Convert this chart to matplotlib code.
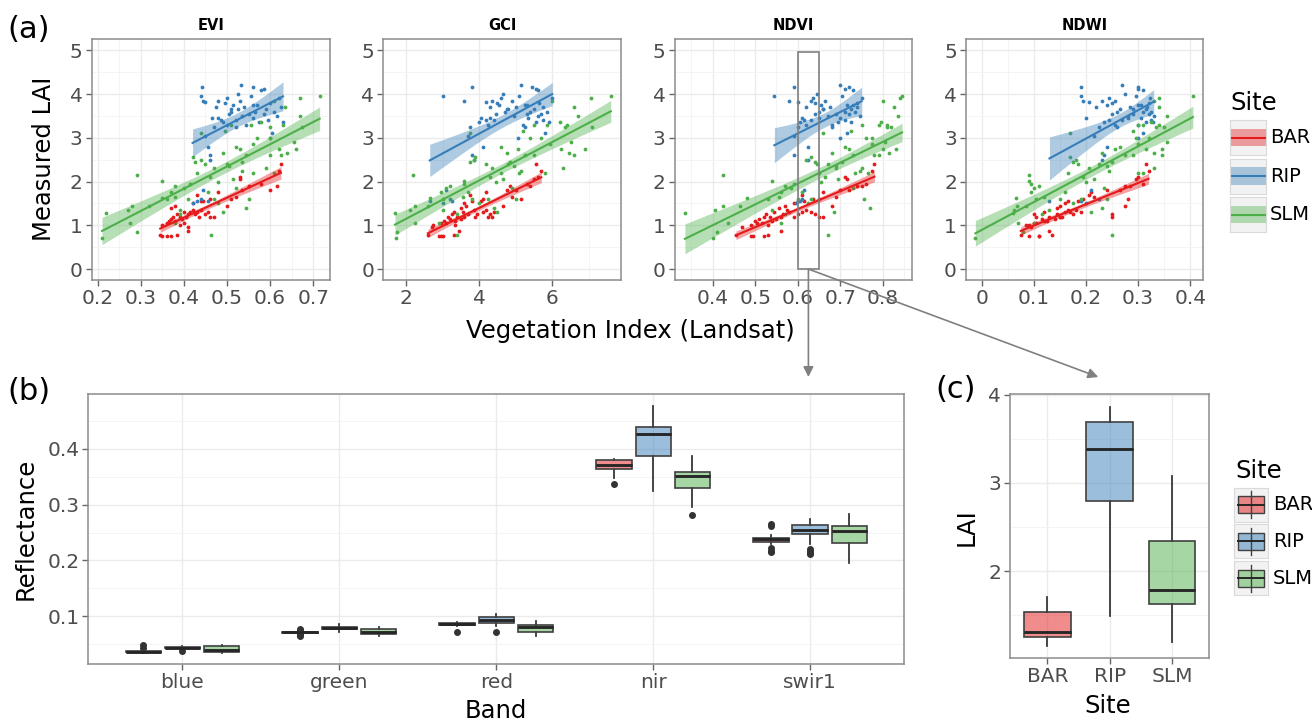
import numpy as np
import matplotlib.pyplot as plt
from matplotlib.patches import Rectangle, ConnectionPatch
from matplotlib.ticker import MultipleLocator, FuncFormatter

W, H = 1312, 724

SITES = ["BAR", "RIP", "SLM"]
COLORS = {"BAR": "#E41A1C", "RIP": "#377EB8", "SLM": "#4DAF4A"}
INDICES = ["EVI", "GCI", "NDVI", "NDWI"]

# ---- (a) field plots: measured LAI and Landsat index values per site ----
bar_lai = [0.78, 0.75, 0.76, 0.75, 0.78, 0.88, 0.95, 1.00, 1.05, 1.10,
           1.15, 1.20, 1.10, 1.25, 1.20, 1.15, 1.30, 1.20, 1.25, 1.30,
           1.35, 1.50, 1.25, 1.30, 1.20, 1.35, 1.55, 1.55, 1.25, 1.30,
           1.20, 1.60, 1.20, 1.70, 1.75, 1.45, 1.60, 1.65, 2.10, 2.05,
           1.80, 1.90, 1.95, 1.80, 2.25, 2.40, 1.90, 1.40, 1.45, 1.00, 1.05]
bar_evi = [0.345, 0.350, 0.360, 0.370, 0.385, 0.410, 0.410, 0.350, 0.360, 0.365,
           0.370, 0.375, 0.380, 0.385, 0.390, 0.395, 0.400, 0.405, 0.410, 0.415,
           0.420, 0.420, 0.425, 0.430, 0.435, 0.440, 0.440, 0.445, 0.450, 0.455,
           0.460, 0.460, 0.470, 0.430, 0.480, 0.500, 0.510, 0.520, 0.530, 0.530,
           0.535, 0.550, 0.580, 0.600, 0.620, 0.625, 0.615, 0.370, 0.380, 0.390, 0.400]
bar_gci = [2.60, 2.90, 2.95, 3.00, 3.30, 3.45, 2.70, 2.75, 3.10, 3.05,
           3.20, 3.15, 3.35, 3.25, 3.40, 3.50, 3.30, 3.60, 3.70, 3.55,
           3.85, 3.60, 3.95, 4.10, 3.90, 4.20, 4.05, 3.80, 4.30, 4.40,
           4.25, 4.10, 4.35, 3.75, 4.20, 4.65, 5.15, 4.90, 5.60, 5.50,
           4.75, 4.85, 5.30, 5.00, 5.70, 5.55, 5.40, 3.50, 3.65, 3.35, 2.95]
bar_ndvi = [0.455, 0.490, 0.495, 0.520, 0.530, 0.560, 0.470, 0.490, 0.505, 0.500,
            0.510, 0.520, 0.540, 0.525, 0.535, 0.550, 0.545, 0.560, 0.565, 0.580,
            0.575, 0.590, 0.600, 0.610, 0.590, 0.620, 0.600, 0.615, 0.640, 0.630,
            0.660, 0.635, 0.650, 0.610, 0.660, 0.680, 0.650, 0.690, 0.710, 0.715,
            0.700, 0.740, 0.760, 0.720, 0.775, 0.780, 0.750, 0.555, 0.570, 0.530, 0.515]
bar_ndwi = [0.075, 0.090, 0.110, 0.110, 0.135, 0.130, 0.095, 0.085, 0.100, 0.120,
            0.115, 0.105, 0.125, 0.100, 0.130, 0.140, 0.120, 0.150, 0.145, 0.160,
            0.165, 0.160, 0.175, 0.170, 0.155, 0.180, 0.165, 0.185, 0.250, 0.190,
            0.250, 0.195, 0.150, 0.205, 0.210, 0.275, 0.280, 0.215, 0.300, 0.295,
            0.240, 0.275, 0.310, 0.265, 0.320, 0.315, 0.285, 0.145, 0.150, 0.090, 0.105]

rip_lai = [4.15, 3.95, 3.85, 3.82, 1.50, 1.55, 1.60, 1.80, 1.55, 2.50,
           2.60, 2.78, 3.05, 3.25, 3.45, 3.70, 3.85, 3.40, 3.35, 3.80,
           3.90, 3.30, 3.55, 3.60, 3.75, 3.40, 3.65, 4.00, 3.85, 3.50,
           4.20, 3.70, 3.30, 3.55, 3.95, 4.15, 3.45, 3.60, 3.75, 3.35,
           4.10, 3.55, 3.65, 3.40, 3.80, 3.00, 3.10, 3.60, 3.50, 3.90,
           3.70, 3.35, 3.45, 3.65, 3.25, 4.12, 3.75]
rip_evi = [0.442, 0.440, 0.445, 0.450, 0.420, 0.430, 0.440, 0.445, 0.455, 0.460,
           0.460, 0.455, 0.450, 0.470, 0.465, 0.475, 0.480, 0.485, 0.490, 0.495,
           0.500, 0.500, 0.505, 0.510, 0.515, 0.520, 0.525, 0.525, 0.530, 0.535,
           0.532, 0.540, 0.545, 0.550, 0.555, 0.560, 0.560, 0.565, 0.570, 0.575,
           0.580, 0.585, 0.590, 0.595, 0.600, 0.600, 0.605, 0.610, 0.615, 0.620,
           0.625, 0.630, 0.480, 0.510, 0.520, 0.585, 0.560]
rip_gci = [3.80, 3.00, 3.60, 4.20, 3.00, 2.65, 3.20, 3.10, 3.25, 3.85,
           3.80, 4.10, 3.70, 3.75, 4.05, 4.30, 4.35, 4.20, 4.00, 4.50,
           4.60, 4.25, 4.45, 4.70, 4.55, 4.40, 4.80, 4.65, 4.90, 4.95,
           5.15, 5.00, 5.20, 5.30, 5.10, 5.45, 5.35, 5.40, 5.25, 5.55,
           5.60, 5.70, 5.50, 5.75, 5.65, 5.05, 5.80, 5.85, 5.60, 6.00,
           5.75, 5.90, 4.30, 4.75, 5.25, 5.55, 5.30]
rip_ndvi = [0.590, 0.545, 0.580, 0.600, 0.595, 0.600, 0.610, 0.615, 0.605, 0.625,
            0.590, 0.625, 0.590, 0.600, 0.610, 0.620, 0.630, 0.615, 0.605, 0.640,
            0.635, 0.620, 0.640, 0.650, 0.655, 0.630, 0.660, 0.645, 0.665, 0.670,
            0.700, 0.675, 0.680, 0.690, 0.705, 0.720, 0.700, 0.710, 0.715, 0.695,
            0.730, 0.720, 0.725, 0.710, 0.740, 0.700, 0.715, 0.735, 0.745, 0.750,
            0.740, 0.725, 0.650, 0.660, 0.680, 0.710, 0.730]
rip_ndwi = [0.190, 0.190, 0.195, 0.205, 0.200, 0.130, 0.225, 0.210, 0.190, 0.230,
            0.235, 0.240, 0.215, 0.225, 0.200, 0.220, 0.230, 0.245, 0.235, 0.250,
            0.245, 0.255, 0.250, 0.260, 0.240, 0.270, 0.265, 0.275, 0.255, 0.280,
            0.270, 0.285, 0.300, 0.290, 0.295, 0.300, 0.305, 0.310, 0.300, 0.315,
            0.310, 0.320, 0.315, 0.325, 0.320, 0.300, 0.310, 0.325, 0.330, 0.322,
            0.318, 0.328, 0.280, 0.290, 0.260, 0.300, 0.305]

slm_lai = [0.70, 1.27, 1.35, 1.45, 1.05, 0.85, 2.15, 1.45, 2.02, 1.62,
           1.60, 1.75, 1.90, 1.65, 1.25, 1.85, 1.60, 1.95, 2.55, 2.45,
           2.20, 2.50, 3.10, 2.40, 1.75, 2.10, 0.77, 1.60, 2.00, 1.50,
           1.30, 2.65, 3.15, 2.40, 2.35, 3.30, 2.05, 2.80, 2.75, 2.45,
           1.40, 2.60, 1.60, 3.30, 2.20, 3.00, 3.35, 2.30, 2.60, 2.20,
           2.75, 2.60, 3.30, 3.70, 2.65, 2.90, 2.75, 3.50, 3.90, 3.25,
           3.95, 3.85, 3.00, 1.35, 1.05, 2.30, 2.85, 1.85, 2.25, 3.25]
slm_evi = [0.210, 0.220, 0.270, 0.280, 0.275, 0.290, 0.290, 0.320, 0.350, 0.350,
           0.360, 0.370, 0.380, 0.380, 0.390, 0.400, 0.410, 0.415, 0.420, 0.425,
           0.430, 0.440, 0.440, 0.450, 0.455, 0.460, 0.462, 0.470, 0.480, 0.480,
           0.490, 0.490, 0.495, 0.500, 0.505, 0.510, 0.515, 0.520, 0.530, 0.535,
           0.545, 0.545, 0.550, 0.555, 0.560, 0.570, 0.580, 0.590, 0.600, 0.610,
           0.620, 0.625, 0.630, 0.635, 0.640, 0.655, 0.660, 0.670, 0.670, 0.675,
           0.715, 0.610, 0.600, 0.390, 0.380, 0.470, 0.560, 0.520, 0.535, 0.600]
slm_gci = [1.72, 1.70, 2.10, 2.25, 2.25, 1.75, 2.20, 2.60, 3.60, 2.65,
           3.00, 2.95, 3.20, 3.55, 3.40, 3.10, 3.80, 3.60, 3.90, 3.75,
           4.60, 3.85, 3.75, 4.20, 3.70, 4.30, 3.40, 4.25, 4.45, 4.00,
           4.50, 4.75, 5.20, 4.80, 4.95, 5.50, 4.65, 4.60, 5.05, 4.85,
           4.40, 5.25, 5.00, 5.85, 5.10, 5.70, 6.20, 6.30, 5.50, 5.80,
           6.25, 6.60, 6.40, 6.60, 6.45, 6.50, 6.90, 6.70, 7.05, 7.10,
           7.60, 6.00, 5.40, 3.00, 2.90, 4.35, 5.95, 4.90, 5.15, 6.35]
slm_ndvi = [0.400, 0.335, 0.405, 0.425, 0.435, 0.410, 0.425, 0.465, 0.540, 0.480,
            0.530, 0.560, 0.570, 0.555, 0.570, 0.585, 0.600, 0.590, 0.630, 0.640,
            0.650, 0.620, 0.660, 0.645, 0.610, 0.665, 0.670, 0.630, 0.655, 0.625,
            0.685, 0.680, 0.725, 0.670, 0.690, 0.750, 0.695, 0.710, 0.720, 0.705,
            0.770, 0.730, 0.755, 0.790, 0.735, 0.775, 0.795, 0.750, 0.780, 0.765,
            0.800, 0.790, 0.810, 0.825, 0.815, 0.805, 0.830, 0.835, 0.840, 0.820,
            0.845, 0.800, 0.760, 0.540, 0.560, 0.690, 0.775, 0.730, 0.745, 0.810]
slm_ndwi = [-0.012, 0.060, 0.062, 0.068, 0.070, 0.080, 0.090, 0.085, 0.090, 0.065,
            0.105, 0.095, 0.110, 0.120, 0.115, 0.100, 0.150, 0.095, 0.170, 0.175,
            0.165, 0.180, 0.170, 0.185, 0.160, 0.195, 0.250, 0.190, 0.200, 0.175,
            0.210, 0.230, 0.290, 0.225, 0.240, 0.300, 0.215, 0.265, 0.255, 0.250,
            0.230, 0.275, 0.240, 0.310, 0.300, 0.295, 0.325, 0.330, 0.290, 0.310,
            0.315, 0.345, 0.340, 0.340, 0.330, 0.355, 0.345, 0.355, 0.340, 0.350,
            0.405, 0.330, 0.320, 0.130, 0.100, 0.205, 0.300, 0.235, 0.245, 0.335]

# ---- (b) reflectance box statistics per band ----
BANDS = ["blue", "green", "red", "nir", "swir1"]
# order: blue, green, red, nir, swir1
bar_q1 = [0.0355, 0.0700, 0.0842, 0.3633, 0.2338]
bar_med = [0.0365, 0.0712, 0.0860, 0.3716, 0.2375]
bar_q3 = [0.0375, 0.0722, 0.0880, 0.3795, 0.2410]
bar_lo = [0.0345, 0.0690, 0.0830, 0.3470, 0.2290]
bar_hi = [0.0385, 0.0735, 0.0895, 0.3820, 0.2450]
bar_out = [[0.0430, 0.0486], [0.0655, 0.0665, 0.0675, 0.0760, 0.0780], [0.0725],
           [0.3360], [0.2146, 0.2175, 0.2223, 0.2610, 0.2660]]

rip_q1 = [0.0430, 0.0765, 0.0885, 0.3878, 0.2470]
rip_med = [0.0440, 0.0790, 0.0940, 0.4256, 0.2547]
rip_q3 = [0.0450, 0.0815, 0.0980, 0.4389, 0.2637]
rip_lo = [0.0420, 0.0725, 0.0830, 0.3248, 0.2300]
rip_hi = [0.0460, 0.0870, 0.1035, 0.4760, 0.2750]
rip_out = [[0.0380], [], [0.0725], [], [0.2110, 0.2140, 0.2170, 0.2200]]

slm_q1 = [0.0355, 0.0683, 0.0720, 0.3297, 0.2313]
slm_med = [0.0405, 0.0720, 0.0800, 0.3518, 0.2518]
slm_q3 = [0.0468, 0.0766, 0.0838, 0.3590, 0.2608]
slm_lo = [0.0340, 0.0640, 0.0650, 0.2960, 0.1948]
slm_hi = [0.0480, 0.0815, 0.0910, 0.3870, 0.2830]
slm_out = [[], [], [], [0.2806], []]

# ---- (c) LAI inside the NDVI 0.60-0.65 window ----
lai_q1 = [1.25, 2.79, 1.63]
lai_med = [1.31, 3.39, 1.78]
lai_q3 = [1.53, 3.69, 2.34]
lai_lo = [1.15, 1.49, 1.20]
lai_hi = [1.71, 3.86, 3.08]

LAI = {"BAR": bar_lai, "RIP": rip_lai, "SLM": slm_lai}
VI = {
    "EVI": {"BAR": bar_evi, "RIP": rip_evi, "SLM": slm_evi},
    "GCI": {"BAR": bar_gci, "RIP": rip_gci, "SLM": slm_gci},
    "NDVI": {"BAR": bar_ndvi, "RIP": rip_ndvi, "SLM": slm_ndvi},
    "NDWI": {"BAR": bar_ndwi, "RIP": rip_ndwi, "SLM": slm_ndwi},
}
REFL = {
    "BAR": (bar_q1, bar_med, bar_q3, bar_lo, bar_hi, bar_out),
    "RIP": (rip_q1, rip_med, rip_q3, rip_lo, rip_hi, rip_out),
    "SLM": (slm_q1, slm_med, slm_q3, slm_lo, slm_hi, slm_out),
}

TICK_COL = "#4D4D4D"
BOX_EDGE = "#404040"
TICK_SIZE = 14.5

fig = plt.figure(figsize=(W / 100, H / 100), dpi=100)


def px_axes(x0, y0, x1, y1):
    return fig.add_axes([x0 / W, 1 - y1 / H, (x1 - x0) / W, (y1 - y0) / H])


def ftext(x, y, s, **kw):
    kw.setdefault("ha", "center")
    kw.setdefault("va", "center")
    fig.text(x / W, 1 - y / H, s, **kw)


def style(ax):
    for sp in ax.spines.values():
        sp.set_color("#8C8C8C")
        sp.set_linewidth(1.1)
    ax.set_axisbelow(True)
    ax.grid(which="major", color="#EBEBEB", lw=1.0)
    ax.grid(which="minor", color="#F3F3F3", lw=0.6)
    ax.tick_params(which="major", length=4, width=1, color="#666666",
                   labelsize=TICK_SIZE, labelcolor=TICK_COL, pad=2.5)
    ax.tick_params(which="minor", length=0)


def lm_band(x, y):
    x = np.asarray(x, float)
    y = np.asarray(y, float)
    slope, icpt = np.polyfit(x, y, 1)
    xs = np.linspace(x.min(), x.max(), 80)
    fit = icpt + slope * xs
    resid = y - (icpt + slope * x)
    n = len(x)
    s = np.sqrt(np.sum(resid ** 2) / (n - 2))
    se = s * np.sqrt(1 / n + (xs - x.mean()) ** 2 / np.sum((x - x.mean()) ** 2))
    return xs, fit, 2.0 * se


fmt = FuncFormatter(lambda v, p: f"{v:g}")

# ---------------- (a) ----------------
panel_x = [(91.7, 330), (383.3, 621), (674.7, 912.3), (966, 1203.3)]
xlims = [(0.186, 0.739), (1.38, 7.88), (0.311, 0.869), (-0.030, 0.425)]
xsteps = [(0.1, 0.05), (2, 1), (0.1, 0.05), (0.1, 0.05)]

axes_a = []
for name, (x0, x1), xl, (maj, mnr) in zip(INDICES, panel_x, xlims, xsteps):
    ax = px_axes(x0, 39.3, x1, 280)
    style(ax)
    for site in SITES:
        ax.scatter(VI[name][site], LAI[site], s=7.5, color=COLORS[site],
                   linewidths=0, zorder=2)
    for site in SITES:
        xs, fit, ci = lm_band(VI[name][site], LAI[site])
        ax.fill_between(xs, fit - ci, fit + ci, color=COLORS[site],
                        alpha=0.4, lw=0, zorder=3)
        ax.plot(xs, fit, color=COLORS[site], lw=1.5, zorder=4)
    ax.set_xlim(*xl)
    ax.set_ylim(-0.25, 5.25)
    ax.xaxis.set_major_locator(MultipleLocator(maj))
    ax.xaxis.set_minor_locator(MultipleLocator(mnr))
    ax.yaxis.set_major_locator(MultipleLocator(1))
    ax.yaxis.set_minor_locator(MultipleLocator(0.5))
    ax.xaxis.set_major_formatter(fmt)
    ax.yaxis.set_major_formatter(fmt)
    ftext((x0 + x1) / 2, 26, name, fontsize=10.5, fontweight="bold")
    axes_a.append(ax)

ax_ndvi = axes_a[2]
ax_ndvi.add_patch(Rectangle((0.6, 0), 0.05, 4.95, fill=False, ec="#808080",
                            lw=1.2, zorder=6))

ftext(44, 159, "Measured LAI", fontsize=17.5, rotation=90)
ftext(630, 331, "Vegetation Index (Landsat)", fontsize=17.5)
ftext(29, 29, "(a)", fontsize=22)

# legend (a)
ftext(1230, 103.5, "Site", fontsize=17.5, ha="left")
for i, site in enumerate(SITES):
    y0 = 120 + i * 38.5
    kax = px_axes(1230, y0, 1265.5, y0 + 35)
    kax.set_xlim(0, 1)
    kax.set_ylim(0, 1)
    kax.set_facecolor("#F2F2F2")
    for sp in kax.spines.values():
        sp.set_color("#DADADA")
        sp.set_linewidth(0.8)
    kax.set_xticks([])
    kax.set_yticks([])
    kax.add_patch(Rectangle((0, 0.25), 1, 0.5, color=COLORS[site], alpha=0.4, lw=0))
    kax.plot([0, 1], [0.5, 0.5], color=COLORS[site], lw=1.5)
    ftext(1270, y0 + 17.5, site, fontsize=14, ha="left")

# ---------------- (b) ----------------
ax_b = px_axes(88.3, 394, 904.3, 664.3)
style(ax_b)
offsets = [-0.25, 0.0, 0.25]
for site, off in zip(SITES, offsets):
    q1, med, q3, lo, hi, out = REFL[site]
    stats = [dict(q1=q1[j], med=med[j], q3=q3[j], whislo=lo[j], whishi=hi[j],
                  fliers=out[j]) for j in range(len(BANDS))]
    pos = [j + 1 + off for j in range(len(BANDS))]
    ax_b.bxp(stats, positions=pos, widths=0.225, patch_artist=True,
             showcaps=False, manage_ticks=False,
             boxprops=dict(facecolor=COLORS[site], alpha=0.5, edgecolor="none"),
             medianprops=dict(color="#262626", lw=1.8),
             whiskerprops=dict(color=BOX_EDGE, lw=1.1),
             flierprops=dict(marker="o", markersize=4, markerfacecolor="#333333",
                             markeredgecolor="#333333"))
    ax_b.bxp(stats, positions=pos, widths=0.225, patch_artist=True,
             showcaps=False, showfliers=False, manage_ticks=False,
             boxprops=dict(facecolor="none", edgecolor=BOX_EDGE, lw=1.2),
             medianprops=dict(color="#262626", lw=1.8),
             whiskerprops=dict(color=BOX_EDGE, lw=1.1))
ax_b.set_xlim(0.4, len(BANDS) + 0.6)
ax_b.set_ylim(0.014, 0.498)
ax_b.set_xticks(range(1, len(BANDS) + 1))
ax_b.set_xticklabels(BANDS)
ax_b.yaxis.set_major_locator(MultipleLocator(0.1))
ax_b.yaxis.set_minor_locator(MultipleLocator(0.05))
ax_b.yaxis.set_major_formatter(fmt)
ax_b.grid(which="minor", axis="x", visible=False)
ftext(26, 529, "Reflectance", fontsize=17.5, rotation=90)
ftext(496, 711, "Band", fontsize=17.5)
ftext(29, 392, "(b)", fontsize=22)

# ---------------- (c) ----------------
ax_c = px_axes(1010, 394, 1209.3, 658.3)
style(ax_c)
stats_c = [dict(q1=lai_q1[j], med=lai_med[j], q3=lai_q3[j], whislo=lai_lo[j],
                whishi=lai_hi[j], fliers=[]) for j in range(len(SITES))]
for j, site in enumerate(SITES):
    ax_c.bxp([stats_c[j]], positions=[j + 1], widths=0.75, patch_artist=True,
             showcaps=False, showfliers=False, manage_ticks=False,
             boxprops=dict(facecolor=COLORS[site], alpha=0.5, edgecolor="none"),
             medianprops=dict(color="#262626", lw=1.8),
             whiskerprops=dict(color=BOX_EDGE, lw=1.1))
    ax_c.bxp([stats_c[j]], positions=[j + 1], widths=0.75, patch_artist=True,
             showcaps=False, showfliers=False, manage_ticks=False,
             boxprops=dict(facecolor="none", edgecolor=BOX_EDGE, lw=1.2),
             medianprops=dict(color="#262626", lw=1.8),
             whiskerprops=dict(color=BOX_EDGE, lw=1.1))
ax_c.set_xlim(0.4, len(SITES) + 0.6)
ax_c.set_ylim(1.01, 4.01)
ax_c.set_xticks(range(1, len(SITES) + 1))
ax_c.set_xticklabels(SITES)
ax_c.yaxis.set_major_locator(MultipleLocator(1))
ax_c.yaxis.set_minor_locator(MultipleLocator(0.5))
ax_c.yaxis.set_major_formatter(fmt)
ax_c.grid(which="minor", axis="x", visible=False)
ftext(967, 527, "LAI", fontsize=17.5, rotation=90)
ftext(1108, 706, "Site", fontsize=17.5)
ftext(956, 390, "(c)", fontsize=22)

# legend (c)
ftext(1235, 471, "Site", fontsize=17.5, ha="left")
for i, site in enumerate(SITES):
    y0 = 487.7 + i * 36.7
    kax = px_axes(1234, y0, 1268, y0 + 34)
    kax.set_xlim(0, 1)
    kax.set_ylim(0, 1)
    kax.set_facecolor("#F2F2F2")
    for sp in kax.spines.values():
        sp.set_color("#DADADA")
        sp.set_linewidth(0.8)
    kax.set_xticks([])
    kax.set_yticks([])
    kax.plot([0.5, 0.5], [0.1, 0.9], color=BOX_EDGE, lw=1.0)
    kax.add_patch(Rectangle((0.13, 0.25), 0.74, 0.5, facecolor=COLORS[site],
                            alpha=0.5, lw=0))
    kax.add_patch(Rectangle((0.13, 0.25), 0.74, 0.5, facecolor="none",
                            edgecolor=BOX_EDGE, lw=1.0))
    kax.plot([0.13, 0.87], [0.5, 0.5], color="#262626", lw=1.4)
    ftext(1272.7, y0 + 17, site, fontsize=14, ha="left")

# ---------------- arrows from the NDVI window ----------------
sx, sy = ax_ndvi.transData.transform((0.625, 0))
for ex in (sx, 1098.3):
    con = ConnectionPatch(xyA=(0.625, 0), coordsA=ax_ndvi.transData,
                          xyB=(ex, H - 377), coordsB="figure pixels",
                          arrowstyle="-|>,head_length=0.6,head_width=0.3",
                          mutation_scale=10, color="#808080", lw=1.2)
    con.set_clip_on(False)
    fig.add_artist(con)

fig.savefig("out.png", dpi=100)
